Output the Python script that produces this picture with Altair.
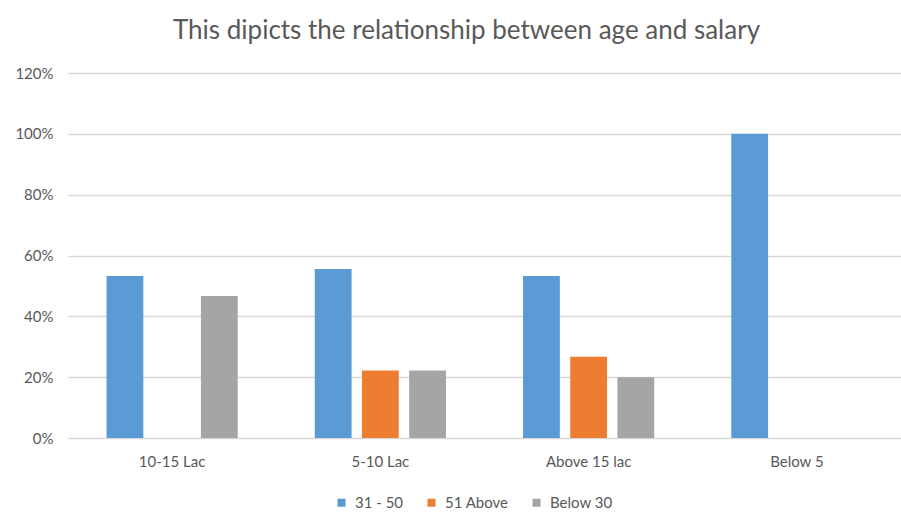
import altair as alt
import pandas as pd

# Salary bands on the x axis, age groups as the side-by-side series
salary_bands = ["10-15 Lac", "5-10 Lac", "Above 15 lac", "Below 5"]
age_groups = ["31 - 50", "51 Above", "Below 30"]

share_31_50 = [0.533, 0.556, 0.533, 1.000]
share_51_above = [0.000, 0.222, 0.267, 0.000]
share_below_30 = [0.467, 0.222, 0.200, 0.000]

y_ticks = [0.0, 0.2, 0.4, 0.6, 0.8, 1.0, 1.2]
series_colors = ["#5B9BD5", "#ED7D31", "#A5A5A5"]

rows = []
for group, values in zip(age_groups, [share_31_50, share_51_above, share_below_30]):
    for band, value in zip(salary_bands, values):
        rows.append({"band": band, "age": group, "share": value})
df = pd.DataFrame(rows)

FONT = "Lato"
TEXT = "#595959"
GRID = "#D9D9D9"

chart = (
    alt.Chart(df)
    .mark_bar()
    .encode(
        x=alt.X(
            "band:N",
            sort=salary_bands,
            title=None,
            scale=alt.Scale(paddingInner=0.37, paddingOuter=0.185),
            axis=alt.Axis(
                labelAngle=0,
                ticks=False,
                domain=False,
                labelPadding=16,
                labelFontSize=15,
                labelColor=TEXT,
                labelFont=FONT,
            ),
        ),
        xOffset=alt.XOffset(
            "age:N",
            sort=age_groups,
            scale=alt.Scale(paddingInner=0.22, paddingOuter=0),
        ),
        y=alt.Y(
            "share:Q",
            title=None,
            scale=alt.Scale(domain=[0, 1.2], nice=False),
            axis=alt.Axis(
                values=y_ticks,
                format=".0%",
                ticks=False,
                domain=False,
                grid=True,
                gridColor=GRID,
                gridWidth=1.5,
                labelPadding=15,
                labelFontSize=15,
                labelColor=TEXT,
                labelFont=FONT,
            ),
        ),
        color=alt.Color(
            "age:N",
            sort=age_groups,
            scale=alt.Scale(domain=age_groups, range=series_colors),
            legend=alt.Legend(
                title=None,
                orient="none",
                direction="horizontal",
                legendX=266,
                legendY=422,
                padding=0,
                symbolType="square",
                symbolSize=64,
                symbolStrokeWidth=0,
                labelOffset=6,
                columnPadding=20,
                labelFontSize=15,
                labelColor=TEXT,
                labelFont=FONT,
            ),
        ),
    )
    .properties(
        width=833,
        height=365,
        title=alt.TitleParams(
            "This dipicts the relationship between age and salary",
            font=FONT,
            fontSize=26,
            fontWeight="normal",
            color=TEXT,
            anchor="middle",
            baseline="alphabetic",
            offset=1,
            dx=-18,
        ),
        padding={"left": 68, "top": 73, "right": 0, "bottom": 84},
        autosize=alt.AutoSizeParams(type="none"),
        background="white",
    )
    .configure_view(stroke=None)
)

chart.save("out.html", embed_options={"renderer": "svg", "actions": False})
